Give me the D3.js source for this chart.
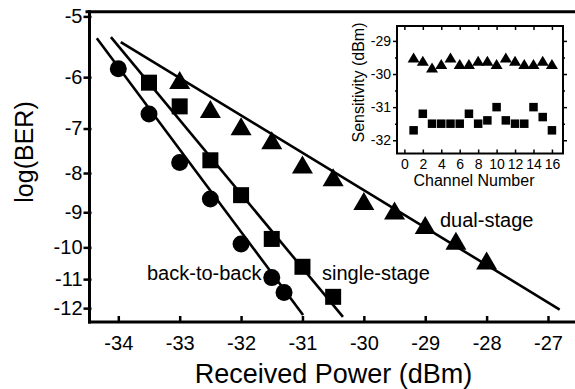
<!DOCTYPE html>
<html>
<head>
<meta charset="utf-8">
<script src="https://cdn.jsdelivr.net/npm/d3@7"></script>
<style>
  body { margin: 0; background: #fff; }
  svg { display: block; font-family: "Liberation Sans", Arial, sans-serif; }
</style>
</head>
<body>
<div id="chart"></div>
<script>
// main panel data (log10 BER vs received power)
const b2bPower = [-34, -33.5, -33, -32.5, -32, -31.5, -31.3];
const b2bLogBer = [-5.85, -6.7, -7.75, -8.65, -9.9, -10.95, -11.45];
const singlePower = [-33.5, -33, -32.5, -32, -31.5, -31, -30.5];
const singleLogBer = [-6.1, -6.55, -7.7, -8.55, -9.75, -10.6, -11.6];
const dualPower = [-33, -32.5, -32, -31.5, -31, -30.5, -30, -29.5, -29, -28.5, -28];
const dualLogBer = [-6.05, -6.6, -6.95, -7.25, -7.8, -8.1, -8.7, -8.95, -9.35, -9.8, -10.4];

// fitted lines, [power, logBER] end points
const b2bFit = [[-34.35, -5.34], [-30.99, -12.25]];
const singleFit = [[-34.12, -5.32], [-30.34, -12.32]];
const dualFit = [[-33.96, -5.4], [-26.81, -12.05]];

const xTicks = [-34, -33, -32, -31, -30, -29, -28, -27];
const yTicks = [-5, -6, -7, -8, -9, -10, -11, -12];

// inset data (sensitivity per channel)
const channels = [1, 2, 3, 4, 5, 6, 7, 8, 9, 10, 11, 12, 13, 14, 15, 16];
const dualSens = [-29.5, -29.6, -29.8, -29.7, -29.5, -29.7, -29.7, -29.6, -29.6, -29.7, -29.5, -29.6, -29.7, -29.7, -29.6, -29.7];
const singleSens = [-31.7, -31.2, -31.5, -31.5, -31.5, -31.5, -31.2, -31.5, -31.4, -31.0, -31.4, -31.5, -31.5, -31.0, -31.3, -31.7];
const insetXTicks = [0, 2, 4, 6, 8, 10, 12, 14, 16];
const insetYTicks = [-29, -30, -31, -32];

const W = 575, H = 389;
const svg = d3.select("#chart").append("svg")
  .attr("width", W).attr("height", H);

// scales - y axis is log(-logBER) as in usual BER plots
const x = d3.scaleLinear().domain([-34, -27]).range([118.3, 548]);
const yLog = d3.scaleLog().domain([4.93, 12.51]).range([11.7, 322]);
const y = v => yLog(-v);

const axLeft = 89.5, axBottom = 322, axTop = 11.7;

// lines
const line = d3.line().x(d => x(d[0])).y(d => y(d[1]));
[b2bFit, singleFit, dualFit].forEach(f => {
  svg.append("path").datum(f).attr("d", line)
    .attr("fill", "none").attr("stroke", "#000").attr("stroke-width", 2.6);
});

// markers
svg.append("g").selectAll("circle")
  .data(b2bPower.map((p, i) => [p, b2bLogBer[i]]))
  .join("circle")
  .attr("cx", d => x(d[0])).attr("cy", d => y(d[1])).attr("r", 8.5);

svg.append("g").selectAll("rect")
  .data(singlePower.map((p, i) => [p, singleLogBer[i]]))
  .join("rect")
  .attr("x", d => x(d[0]) - 8).attr("y", d => y(d[1]) - 8)
  .attr("width", 16).attr("height", 16);

const tri = (w, h) => `M0,${-h / 2}L${w / 2},${h / 2}L${-w / 2},${h / 2}Z`;
svg.append("g").selectAll("path")
  .data(dualPower.map((p, i) => [p, dualLogBer[i]]))
  .join("path")
  .attr("d", tri(21, 18))
  .attr("transform", d => `translate(${x(d[0])},${y(d[1])})`);

// x axis
const minorX = d3.range(-34.4, -26.5, 0.2).filter(v => Math.abs(v - Math.round(v)) > 0.05);
const xAxis = svg.append("g").attr("transform", `translate(0,${axBottom})`);
xAxis.call(d3.axisBottom(x).tickValues(minorX).tickSize(-3).tickFormat(""));
xAxis.call(d3.axisBottom(x).tickValues(xTicks).tickSize(-6).tickPadding(14).tickFormat(d => d));
xAxis.selectAll(".domain").remove();
xAxis.selectAll("line").attr("stroke-width", 2.5);
xAxis.selectAll("text").attr("font-size", 20).attr("fill", "#000").attr("font-family", null);
svg.append("line").attr("x1", axLeft - 1.5).attr("x2", W).attr("y1", axBottom).attr("y2", axBottom)
  .attr("stroke", "#000").attr("stroke-width", 3);

// y axis
const yAxis = svg.append("g").attr("transform", `translate(${axLeft},0)`);
yAxis.call(d3.axisLeft(yLog).tickValues(yTicks.map(v => -v)).tickSize(6).tickPadding(1).tickFormat(d => "-" + d));
yAxis.selectAll(".domain").remove();
yAxis.selectAll("line").attr("x1", 2).attr("stroke-width", 2.5);
yAxis.selectAll("text").attr("font-size", 20).attr("fill", "#000").attr("font-family", null);
svg.append("line").attr("x1", axLeft).attr("x2", axLeft).attr("y1", axTop - 1.5).attr("y2", axBottom + 1.5)
  .attr("stroke", "#000").attr("stroke-width", 3);
svg.append("line").attr("x1", axLeft - 4).attr("x2", W).attr("y1", axTop).attr("y2", axTop)
  .attr("stroke", "#000").attr("stroke-width", 3);

// axis titles
svg.append("text").attr("x", 333.5).attr("y", 383).attr("text-anchor", "middle")
  .attr("font-size", 27).text("Received Power (dBm)");
svg.append("text").attr("transform", "translate(33,152) rotate(-90)").attr("text-anchor", "middle")
  .attr("font-size", 25).text("log(BER)");

// curve labels
svg.append("text").attr("x", 147).attr("y", 280).attr("font-size", 20).text("back-to-back");
svg.append("text").attr("x", 322).attr("y", 280).attr("font-size", 20).text("single-stage");
svg.append("text").attr("x", 440).attr("y", 227).attr("font-size", 20).text("dual-stage");

// ---- inset ----
const ix = d3.scaleLinear().domain([-0.8, 17.2]).range([397, 563]);
const iy = d3.scaleLinear().domain([-32.4, -28.55]).range([153.5, 26]);
const inset = svg.append("g");

inset.append("g").selectAll("path")
  .data(channels.map((c, i) => [c, dualSens[i]]))
  .join("path")
  .attr("d", tri(12, 10))
  .attr("transform", d => `translate(${ix(d[0])},${iy(d[1])})`);

inset.append("g").selectAll("rect")
  .data(channels.map((c, i) => [c, singleSens[i]]))
  .join("rect")
  .attr("x", d => ix(d[0]) - 4.25).attr("y", d => iy(d[1]) - 4.25)
  .attr("width", 8.5).attr("height", 8.5);

const iMinor = [-29.5, -30.5, -31.5];
const styleAxis = g => {
  g.selectAll(".domain").remove();
  g.selectAll("line").attr("stroke-width", 1.5);
  g.selectAll("text").attr("font-size", 14).attr("fill", "#000").attr("font-family", null);
};
inset.append("g").attr("transform", "translate(397,0)")
  .call(d3.axisLeft(iy).tickValues(iMinor).tickSize(2).tickFormat("")).call(styleAxis);
inset.append("g").attr("transform", "translate(397,0)")
  .call(d3.axisLeft(iy).tickValues(insetYTicks).tickSize(4).tickPadding(2).tickFormat(d => String(d))).call(styleAxis);
inset.append("g").attr("transform", "translate(563,0)")
  .call(d3.axisLeft(iy).tickValues(iMinor).tickSize(-2).tickFormat("")).call(styleAxis);
inset.append("g").attr("transform", "translate(563,0)")
  .call(d3.axisLeft(iy).tickValues(insetYTicks).tickSize(-4).tickFormat("")).call(styleAxis);
inset.append("g").attr("transform", "translate(0,153.5)")
  .call(d3.axisBottom(ix).tickValues(insetXTicks).tickSize(-4).tickPadding(5.5).tickFormat(d => String(d))).call(styleAxis);
inset.append("g").attr("transform", "translate(0,26)")
  .call(d3.axisTop(ix).tickValues(insetXTicks).tickSize(-4).tickFormat("")).call(styleAxis);

inset.append("rect").attr("x", 397).attr("y", 26).attr("width", 166).attr("height", 127.5)
  .attr("fill", "none").attr("stroke", "#000").attr("stroke-width", 2);

inset.append("text").attr("x", 474).attr("y", 186).attr("text-anchor", "middle")
  .attr("font-size", 16).text("Channel Number");
inset.append("text").attr("transform", "translate(364,82.5) rotate(-90)").attr("text-anchor", "middle")
  .attr("font-size", 16).text("Sensitivity (dBm)");
</script>
</body>
</html>
